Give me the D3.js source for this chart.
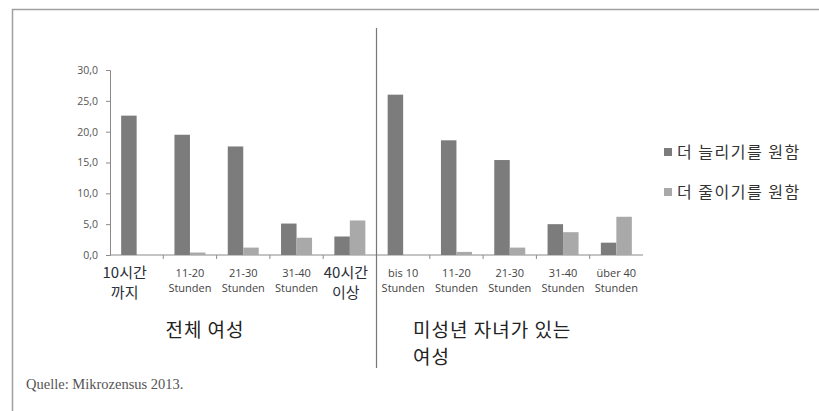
<!DOCTYPE html>
<html>
<head>
<meta charset="utf-8">
<script src="https://cdn.jsdelivr.net/npm/d3@7"></script>
<style>
  body { margin: 0; background: #fff; }
  svg { display: block; }
</style>
</head>
<body>
<div id="chart"></div>
<script>
var width = 819;
var height = 411;

// data
var groups = ['전체 여성', '미성년 자녀가 있는 여성'];
var series = ['더 늘리기를 원함', '더 줄이기를 원함'];
var tickLabels = [
    ['10시간', '까지'], ['11-20', 'Stunden'], ['21-30', 'Stunden'], ['31-40', 'Stunden'], ['40시간', '이상'],
    ['bis 10', 'Stunden'], ['11-20', 'Stunden'], ['21-30', 'Stunden'], ['31-40', 'Stunden'], ['über 40', 'Stunden']
];
var moreValues = [22.6, 19.5, 17.6, 5.1, 3.0, 26.0, 18.6, 15.4, 5.0, 2.0];
var lessValues = [0, 0.4, 1.2, 2.8, 5.6, 0, 0.5, 1.2, 3.7, 6.2];
var yTicks = [0, 5, 10, 15, 20, 25, 30];
var source = 'Quelle: Mikrozensus 2013.';

var colors = ['#7c7c7c', '#a9a9a9'];

var margin = { top: 70, left: 110, right: 176, bottom: 156 };
var chartWidth = width - margin.left - margin.right;
var chartHeight = height - margin.top - margin.bottom;

var svg = d3.select('#chart').append('svg')
    .attr('width', width)
    .attr('height', height);

// frame
svg.append('path')
    .attr('d', `M12.5,${height} V9.5 H${width}`)
    .attr('fill', 'none')
    .attr('stroke', '#a0a0a0')
    .attr('stroke-width', 1.5);

var g = svg.append('g')
    .attr('transform', `translate(${margin.left}, ${margin.top})`);

var idx = d3.range(tickLabels.length);

var xCat = d3.scaleBand()
    .domain(idx)
    .range([0, chartWidth]);

var xSeries = d3.scaleBand()
    .domain(series)
    .range([0, xCat.bandwidth()])
    .paddingOuter(0.72);

var yScale = d3.scaleLinear()
    .domain([0, 30])
    .range([chartHeight, 0]);

// y axis
var yAxis_g = g.append('g')
    .call(d3.axisLeft(yScale)
        .tickValues(yTicks)
        .tickSize(4)
        .tickPadding(8)
        .tickFormat(d => d.toFixed(1).replace('.', ',')));
yAxis_g.select('.domain').attr('stroke', '#8a8a8a');
yAxis_g.selectAll('.tick line').attr('stroke', '#8a8a8a');
yAxis_g.selectAll('.tick text')
    .attr('fill', '#555')
    .style('font-family', 'Open Sans')
    .style('font-size', '10.5px');

// x baseline + boundary ticks
g.append('line')
    .attr('x1', 0).attr('x2', chartWidth)
    .attr('y1', chartHeight).attr('y2', chartHeight)
    .attr('stroke', '#8a8a8a');

g.selectAll('.xtick')
    .data(idx.slice(1))
    .enter()
    .append('line')
    .attr('class', 'xtick')
    .attr('x1', d => xCat(d)).attr('x2', d => xCat(d))
    .attr('y1', chartHeight).attr('y2', chartHeight + 4)
    .attr('stroke', '#8a8a8a');

// bars
var valueSets = [moreValues, lessValues];
series.forEach(function (s, si) {
    g.selectAll('.bar' + si)
        .data(valueSets[si])
        .enter()
        .append('rect')
        .attr('class', 'bar' + si)
        .attr('x', (d, i) => xCat(i) + xSeries(s))
        .attr('y', d => yScale(d))
        .attr('width', xSeries.bandwidth())
        .attr('height', d => chartHeight - yScale(d))
        .attr('fill', colors[si]);
});

// separator between groups
var sepX = xCat(tickLabels.length / 2);
g.append('line')
    .attr('x1', sepX).attr('x2', sepX)
    .attr('y1', 28 - margin.top).attr('y2', 368 - margin.top)
    .attr('stroke', '#777')
    .attr('stroke-width', 1.2);

// category labels
var labelG = g.selectAll('.xlabel')
    .data(tickLabels)
    .enter()
    .append('text')
    .attr('class', 'xlabel')
    .attr('text-anchor', 'middle')
    .attr('transform', (d, i) => `translate(${xCat(i) + xCat.bandwidth() / 2}, ${chartHeight})`);

labelG.each(function (d, i) {
    var t = d3.select(this);
    var korean = /[\uac00-\ud7a3]/.test(d[0]);
    if (korean) {
        // the korean labels were pasted over the original ones, slightly shifted left
        var dx = i === 0 ? -12 : -4;
        t.style('font-family', 'Noto Sans CJK KR').style('font-size', '15px').attr('fill', '#2a2f3a');
        t.append('tspan').attr('x', dx).attr('y', 23).text(d[0]);
        t.append('tspan').attr('x', dx).attr('y', 43).text(d[1]);
    } else {
        t.style('font-family', 'Open Sans').style('font-size', '11px').attr('fill', '#444');
        t.append('tspan').attr('x', 0).attr('y', 22).text(d[0]);
        t.append('tspan').attr('x', 0).attr('y', 37).text(d[1]);
    }
});

// group titles
svg.append('text')
    .attr('x', 205).attr('y', 337)
    .attr('text-anchor', 'middle')
    .style('font-family', 'Noto Sans CJK KR')
    .style('font-size', '19px')
    .style('letter-spacing', '1px')
    .attr('fill', '#222')
    .text(groups[0]);

var words = groups[1].split(' ');
var t2 = svg.append('text')
    .style('font-family', 'Noto Sans CJK KR')
    .style('font-size', '19px')
    .style('letter-spacing', '1px')
    .attr('fill', '#222');
t2.append('tspan').attr('x', 413).attr('y', 337).text(words.slice(0, 3).join(' '));
t2.append('tspan').attr('x', 413).attr('y', 364).text(words.slice(3).join(' '));

// legend
var legend = svg.selectAll('.legend')
    .data(series)
    .enter()
    .append('g')
    .attr('class', 'legend')
    .attr('transform', (d, i) => `translate(664, ${152 + i * 40})`);

legend.append('rect')
    .attr('x', 0).attr('y', -4)
    .attr('width', 8).attr('height', 8)
    .attr('fill', (d, i) => colors[i]);

legend.append('text')
    .attr('x', 13).attr('y', 6)
    .style('font-family', 'Noto Sans CJK KR')
    .style('font-size', '16px')
    .style('letter-spacing', '1.5px')
    .attr('fill', '#333')
    .text(d => d);

// source
svg.append('text')
    .attr('x', 26).attr('y', 389)
    .style('font-family', 'Liberation Serif')
    .style('font-size', '14.5px')
    .attr('fill', '#555')
    .text(source);
</script>
</body>
</html>
